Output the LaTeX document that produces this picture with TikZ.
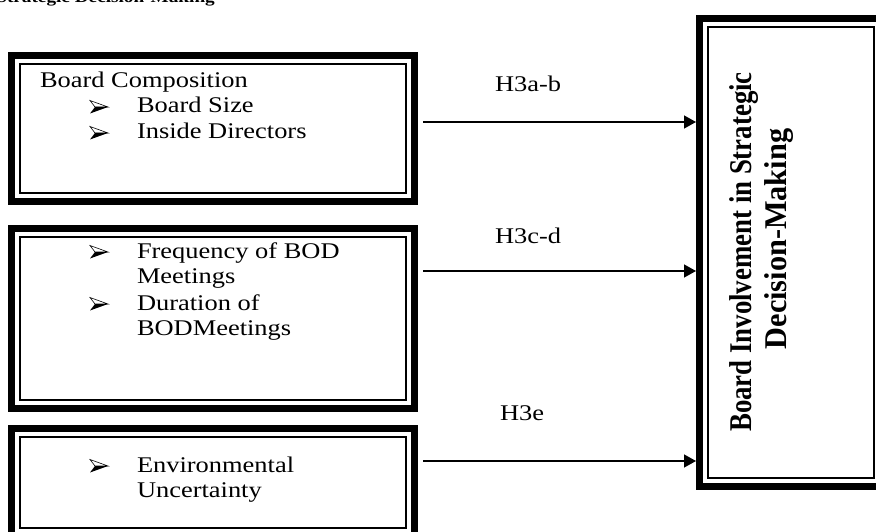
\documentclass[tikz,border=0pt]{standalone}
\usepackage{fontspec}
\setmainfont{Liberation Serif}
\usetikzlibrary{arrows.meta,calc}
\newcommand\sx[1]{\scalebox{1.18}[1]{#1}}
\tikzset{
  frameout/.style={line width=7pt},
  framein/.style={line width=1.4pt},
  boxnode/.style={inner sep=0pt, outer sep=0pt, draw=none},
  txt/.style={inner sep=0pt, outer sep=0pt, anchor=base west, font=\fontsize{22.4}{26}\selectfont},
  arr/.style={line width=1.4pt, -{Triangle[length=12pt,width=13pt]}},
  ttl/.style={inner sep=0pt, outer sep=0pt, rotate=90, anchor=base, font=\bfseries\fontsize{26.8}{30}\selectfont},
  pics/arrb/.style={code={
    \draw[line width=0.6pt, fill=white, line join=miter] (0,-12.5) -- (18,-6) -- (5,-6) -- cycle;
    \fill (5,-6) -- (18,-6) -- (0,0.5) -- cycle;
  }}
}
\newcommand\dframe[1]{%
  \draw[frameout] ($(#1.north west)+(3.5,3.5)$) rectangle ($(#1.south east)+(-3.5,-3.5)$);
  \draw[framein] ($(#1.north west)+(12,12)$) rectangle ($(#1.south east)+(-12,-12)$);}
\begin{document}
\begin{tikzpicture}[x=1pt,y=-1pt]
\useasboundingbox (0,0) rectangle (876,532);
\begin{scope}
\clip (0,0) rectangle (876,532);
\node[inner sep=0pt, anchor=base east, font=\bfseries\fontsize{16.3}{18}\selectfont] (head) at (215,3) {\sx{Strategic Decision-Making}};
% boxes
\node[boxnode, minimum width=410pt, minimum height=153pt] (b1) at (213,128.5) {};
\node[boxnode, minimum width=410pt, minimum height=187pt] (b2) at (213,318.5) {};
\node[boxnode, minimum width=410pt, minimum height=115pt] (b3) at (213,482.5) {};
\node[boxnode, minimum width=190pt, minimum height=475pt] (R) at (791,252.5) {};
\dframe{b1}
\dframe{b2}
\dframe{b3}
\dframe{R}
% box 1 text
\node[txt] (t11) at (40,88) {\sx{Board Composition}};
\pic at (90,113) {arrb};
\node[txt] (t12) at (137,113) {\sx{Board Size}};
\pic at (90,139) {arrb};
\node[txt] (t13) at (137,139) {\sx{Inside Directors}};
% box 2 text
\pic at (90,258) {arrb};
\node[txt] (t21) at (137,258) {\sx{Frequency of BOD}};
\node[txt] (t22) at (137,283) {\sx{Meetings}};
\pic at (90,310) {arrb};
\node[txt] (t23) at (137,310) {\sx{Duration of}};
\node[txt] (t24) at (137,335) {\sx{BODMeetings}};
% box 3 text
\pic at (90,472) {arrb};
\node[txt] (t31) at (137,472) {\sx{Environmental}};
\node[txt] (t32) at (137,497) {\sx{Uncertainty}};
% title
\node[ttl] (r1) at (751,252) {\scalebox{1}[1.18]{Board Involvement in Strategic}};
\node[ttl] (r2) at (786,239) {\scalebox{1.13}[1.18]{Decision-Making}};
% arrows
\coordinate (s1) at ($(b1.east)+(5,-6.5)$);
\coordinate (s2) at ($(b2.east)+(5,-47.5)$);
\coordinate (s3) at ($(b3.east)+(5,-21.5)$);
\draw[arr] (s1) -- (s1 -| R.west);
\draw[arr] (s2) -- (s2 -| R.west);
\draw[arr] (s3) -- (s3 -| R.west);
% labels
\node[txt] (h1) at (495,92) {\sx{H3a-b}};
\node[txt] (h2) at (495,243) {\sx{H3c-d}};
\node[txt] (h3) at (500,420) {\sx{H3e}};
\end{scope}
\end{tikzpicture}
\end{document}
